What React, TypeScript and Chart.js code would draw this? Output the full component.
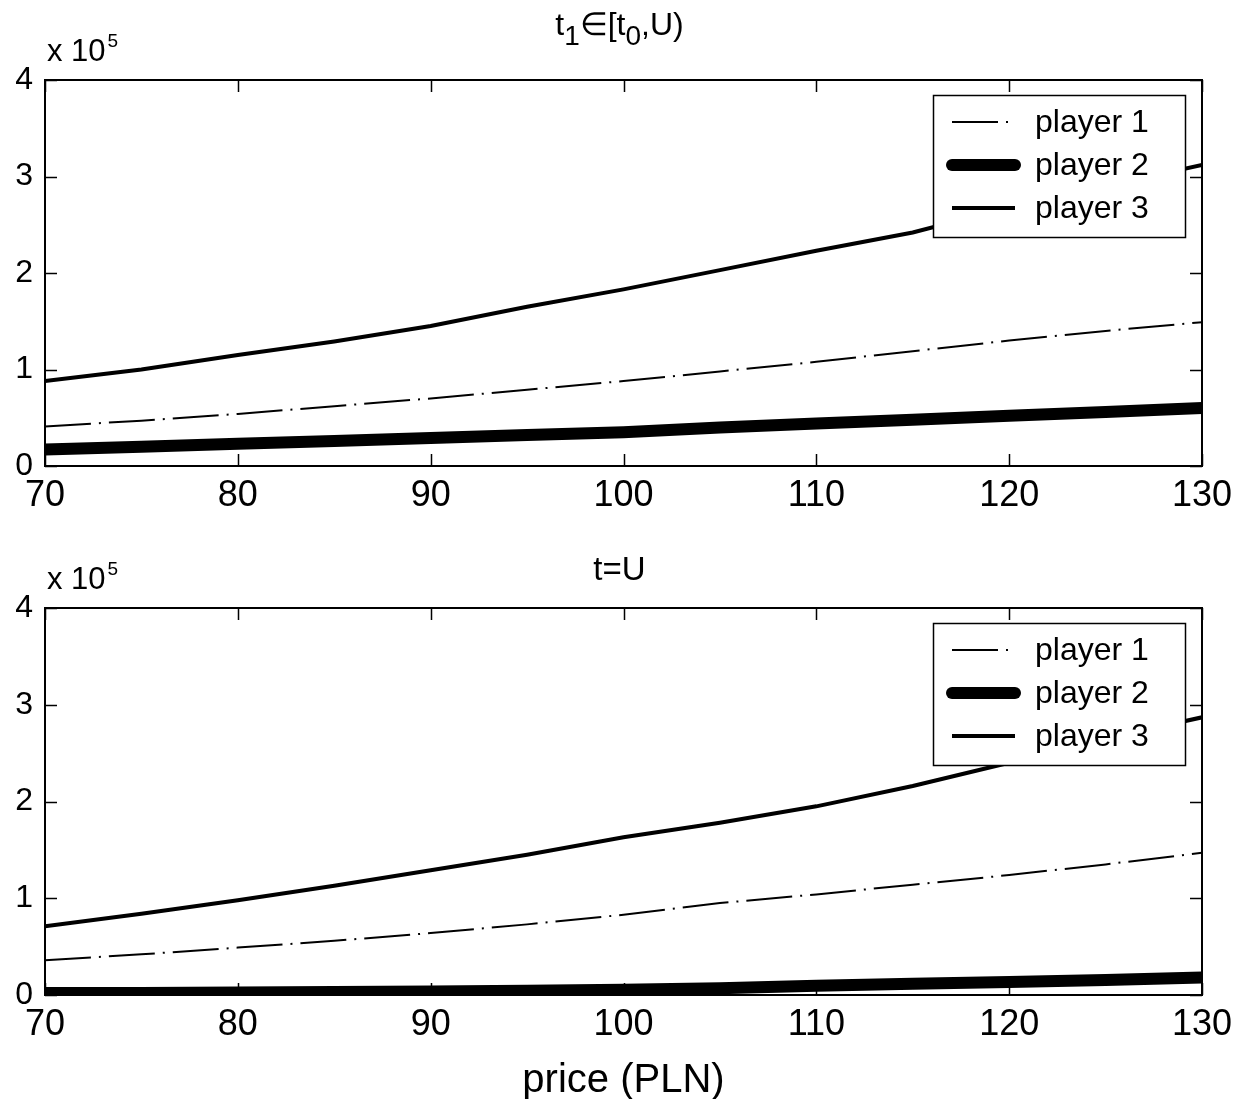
import React, { useEffect, useRef } from "react";
import { Chart, registerables } from "chart.js";

Chart.register(...registerables);

// ---------------- data (y values in units of 10^5) ----------------
const prices = [70, 75, 80, 85, 90, 95, 100, 105, 110, 115, 120, 125, 130];
const seriesLabels = ["player 1", "player 2", "player 3"];

// panel 1: t1 in [t0, U)
const player1Early = [0.41, 0.47, 0.54, 0.62, 0.7, 0.79, 0.88, 0.98, 1.08, 1.19, 1.3, 1.4, 1.49];
const player2Early = [0.17, 0.2, 0.23, 0.26, 0.29, 0.32, 0.35, 0.4, 0.44, 0.48, 0.52, 0.56, 0.6];
const player3Early = [0.88, 1.0, 1.15, 1.29, 1.45, 1.65, 1.83, 2.03, 2.23, 2.42, 2.68, 2.9, 3.12];

// panel 2: t = U
const player1Late = [0.36, 0.42, 0.49, 0.56, 0.64, 0.73, 0.83, 0.95, 1.04, 1.14, 1.24, 1.35, 1.47];
const player2Late = [0.02, 0.02, 0.025, 0.03, 0.035, 0.045, 0.055, 0.07, 0.095, 0.115, 0.135, 0.155, 0.18];
const player3Late = [0.71, 0.84, 0.98, 1.13, 1.29, 1.45, 1.63, 1.78, 1.95, 2.16, 2.4, 2.65, 2.87];

const xMin = 70;
const xMax = 130;
const xStep = 10;
const yMin = 0;
const yMax = 4;
const yStep = 1;

const multiplierBase = "x 10";
const multiplierExp = "5";
const titleEarly = [
  { text: "t", sub: false },
  { text: "1", sub: true },
  { text: "∈[t", sub: false },
  { text: "0", sub: true },
  { text: ",U)", sub: false },
];
const titleLate = [{ text: "t=U", sub: false }];
const xAxisTitle = "price (PLN)";

// ---------------- styling ----------------
const FONT = '"Liberation Sans", Arial, Helvetica, sans-serif';

const seriesStyles = [
  { borderWidth: 2, borderDash: [46, 8, 2, 8], cap: "butt" },
  { borderWidth: 12, borderDash: [], cap: "round" },
  { borderWidth: 4, borderDash: [], cap: "butt" },
];

function makeDatasets(values: number[][]) {
  return values.map((vals, i) => ({
    label: seriesLabels[i],
    data: prices.map((p, j) => ({ x: p, y: vals[j] })),
    borderColor: "#000",
    backgroundColor: "#000",
    borderWidth: seriesStyles[i].borderWidth,
    borderDash: seriesStyles[i].borderDash,
    borderCapStyle: "butt",
    pointRadius: 0,
    tension: 0,
    fill: false,
  }));
}

const matlabDecor = {
  id: "matlabDecor",
  afterDatasetsDraw(chart: any) {
    const ctx = chart.ctx;
    const ca = chart.chartArea;
    const xs = chart.scales.x;
    const ys = chart.scales.y;
    ctx.save();
    ctx.strokeStyle = "#000";
    ctx.setLineDash([]);
    ctx.lineWidth = 1.5;
    const tl = 12;
    ctx.beginPath();
    xs.ticks.forEach((t: any) => {
      const px = Math.round(xs.getPixelForValue(t.value)) + 0.5;
      ctx.moveTo(px, ca.bottom);
      ctx.lineTo(px, ca.bottom - tl);
      ctx.moveTo(px, ca.top);
      ctx.lineTo(px, ca.top + tl);
    });
    ys.ticks.forEach((t: any) => {
      const py = Math.round(ys.getPixelForValue(t.value)) + 0.5;
      ctx.moveTo(ca.left, py);
      ctx.lineTo(ca.left + tl, py);
      ctx.moveTo(ca.right, py);
      ctx.lineTo(ca.right - tl, py);
    });
    ctx.stroke();
    ctx.lineWidth = 2;
    ctx.strokeRect(ca.left, ca.top, ca.right - ca.left, ca.bottom - ca.top);
    ctx.restore();
  },
  afterDraw(chart: any, _args: any, opts: any) {
    const ctx = chart.ctx;
    const ca = chart.chartArea;
    ctx.save();
    ctx.fillStyle = "#000";
    ctx.strokeStyle = "#000";

    // legend
    const w = 252;
    const h = 142;
    const bx = ca.right - 17 - w;
    const by = ca.top + 15;
    ctx.fillStyle = "#fff";
    ctx.fillRect(bx, by, w, h);
    ctx.lineWidth = 1.5;
    ctx.setLineDash([]);
    ctx.strokeRect(bx + 0.5, by + 0.5, w, h);
    chart.data.datasets.forEach((ds: any, i: number) => {
      const cy = by + 27 + i * 43;
      ctx.beginPath();
      ctx.lineWidth = ds.borderWidth;
      ctx.setLineDash(ds.borderDash || []);
      ctx.lineCap = seriesStyles[i].cap;
      ctx.moveTo(bx + 19, cy);
      ctx.lineTo(bx + 82, cy);
      ctx.stroke();
      ctx.setLineDash([]);
      ctx.lineCap = "butt";
      ctx.fillStyle = "#000";
      ctx.font = `32px ${FONT}`;
      ctx.textAlign = "left";
      ctx.textBaseline = "middle";
      ctx.fillText(ds.label, bx + 102, cy + 1);
    });

    // multiplier "x 10^5"
    ctx.fillStyle = "#000";
    ctx.textAlign = "left";
    ctx.textBaseline = "alphabetic";
    ctx.font = `31px ${FONT}`;
    const baseY = ca.top - 19;
    ctx.fillText(multiplierBase, ca.left + 2, baseY);
    const bw = ctx.measureText(multiplierBase).width;
    ctx.font = `19px ${FONT}`;
    ctx.fillText(multiplierExp, ca.left + 2 + bw + 2, baseY - 14);

    // title with subscripts
    const parts = opts.title as { text: string; sub: boolean }[];
    const mainSize = opts.titleSize;
    const subSize = opts.titleSize - 4;
    let total = 0;
    parts.forEach((p) => {
      ctx.font = `${p.sub ? subSize : mainSize}px ${FONT}`;
      total += ctx.measureText(p.text).width;
    });
    let x = (ca.left + ca.right) / 2 - total / 2 - 4;
    const ty = ca.top - opts.titleOffset;
    parts.forEach((p) => {
      ctx.font = `${p.sub ? subSize : mainSize}px ${FONT}`;
      ctx.fillText(p.text, x, p.sub ? ty + 10 : ty);
      x += ctx.measureText(p.text).width;
    });
    ctx.restore();
  },
};

function makeConfig(values: number[][], opts: any) {
  return {
    type: "line",
    data: { datasets: makeDatasets(values) },
    plugins: [matlabDecor],
    options: {
      animation: false,
      responsive: false,
      maintainAspectRatio: false,
      devicePixelRatio: 1,
      layout: { padding: { left: 0, right: 31, top: opts.padTop, bottom: 0 } },
      plugins: {
        legend: { display: false },
        tooltip: { enabled: false },
        title: { display: false },
        matlabDecor: {
          title: opts.title,
          titleSize: opts.titleSize,
          titleOffset: opts.titleOffset,
        },
      },
      scales: {
        x: {
          type: "linear",
          min: xMin,
          max: xMax,
          grid: { display: false, drawTicks: false },
          border: { display: false },
          ticks: {
            stepSize: xStep,
            color: "#000",
            font: { family: FONT, size: 36 },
            padding: 8,
            maxRotation: 0,
            autoSkip: false,
          },
          title: opts.xTitle
            ? {
                display: true,
                text: opts.xTitle,
                color: "#000",
                font: { family: FONT, size: 40 },
                padding: { top: 0, bottom: -6 },
              }
            : { display: false },
          afterFit: (s: any) => {
            s.height = opts.xHeight;
            s.paddingLeft = 0;
            s.paddingRight = 0;
          },
        },
        y: {
          type: "linear",
          min: yMin,
          max: yMax,
          grid: { display: false, drawTicks: false },
          border: { display: false },
          ticks: {
            stepSize: yStep,
            color: "#000",
            font: { family: FONT, size: 32 },
            padding: 12,
          },
          afterFit: (s: any) => {
            s.width = 45;
            s.paddingTop = 0;
            s.paddingBottom = 0;
          },
        },
      },
    },
  };
}

export default function App() {
  const topRef = useRef<HTMLCanvasElement | null>(null);
  const botRef = useRef<HTMLCanvasElement | null>(null);

  useEffect(() => {
    const c1 = new Chart(
      topRef.current as any,
      makeConfig([player1Early, player2Early, player3Early], {
        padTop: 80,
        xHeight: 64,
        title: titleEarly,
        titleSize: 32,
        titleOffset: 45,
      }) as any
    );
    const c2 = new Chart(
      botRef.current as any,
      makeConfig([player1Late, player2Late, player3Late], {
        padTop: 78,
        xHeight: 104,
        title: titleLate,
        titleSize: 33,
        titleOffset: 28,
        xTitle: xAxisTitle,
      }) as any
    );
    return () => {
      c1.destroy();
      c2.destroy();
    };
  }, []);

  return (
    <div
      style={{
        position: "absolute",
        left: 0,
        top: 0,
        width: 1233,
        height: 1099,
        background: "#fff",
      }}
    >
      <canvas
        ref={topRef}
        width={1233}
        height={530}
        style={{ display: "block", width: 1233, height: 530 }}
      />
      <canvas
        ref={botRef}
        width={1233}
        height={569}
        style={{ display: "block", width: 1233, height: 569 }}
      />
    </div>
  );
}
